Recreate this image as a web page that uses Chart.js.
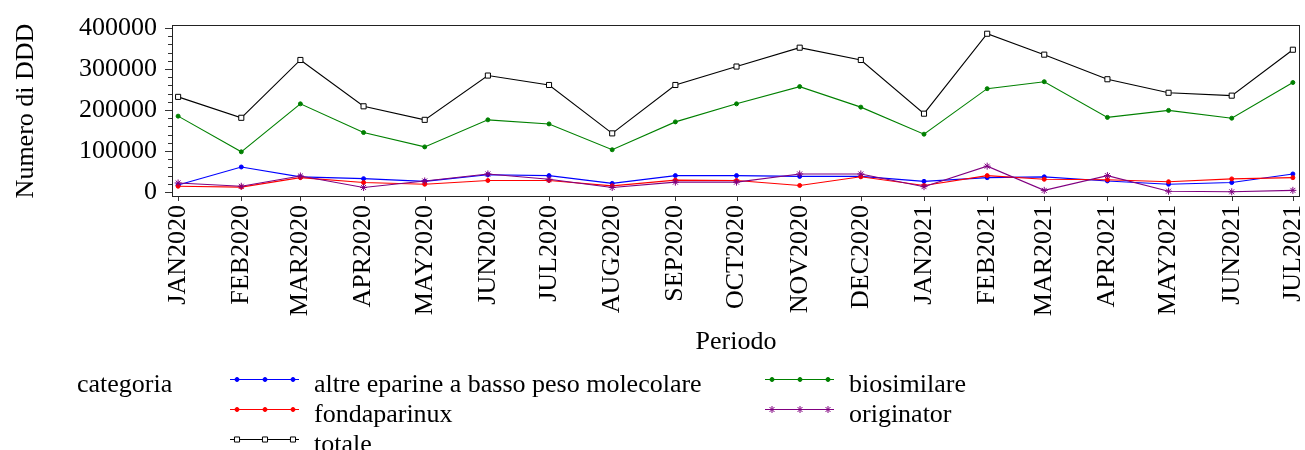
<!DOCTYPE html>
<html><head><meta charset="utf-8">
<script src="https://cdn.jsdelivr.net/npm/chart.js@4.4.1/dist/chart.umd.min.js"></script>
<style>html,body{margin:0;padding:0;background:#fff;}canvas{display:block;}</style>
</head><body>
<canvas id="c" width="1305" height="450"></canvas>
<script>
const categories = ['JAN2020','FEB2020','MAR2020','APR2020','MAY2020','JUN2020','JUL2020','AUG2020','SEP2020','OCT2020','NOV2020','DEC2020','JAN2021','FEB2021','MAR2021','APR2021','MAY2021','JUN2021','JUL2021'];
const altre = [17000,61000,37000,32500,26000,42000,40000,21000,40000,40000,38000,38000,26000,35000,37000,27000,19000,23000,44000];
const biosimilare = [185000,98000,215000,145000,110000,176000,166000,103000,171000,215000,257000,207000,141000,252000,269000,182000,199000,180000,267000];
const fondaparinux = [14000,12000,35000,23000,19000,28000,28000,15000,29000,28000,16000,37000,16000,40000,31000,30000,25000,32000,35000];
const originator = [22000,14000,39000,11000,27000,44000,31000,11000,24000,24000,44000,44000,13000,63000,4000,40000,2000,500,4000];
const totale = [232000,181000,322000,209000,176000,284000,261000,143000,261000,306000,352000,322000,191000,386000,335000,275000,242000,235000,347000];
const seriesNames = ['altre eparine a basso peso molecolare','biosimilare','fondaparinux','originator','totale'];
const legendTitle = 'categoria';
const yMajorTicks = [0,100000,200000,300000,400000];
const yMinorStep = 20000;
const xTitle = 'Periodo';
const yTitle = 'Numero di DDD';

const FONT = "'Liberation Serif', 'Times New Roman', serif";
const MONTHS = ['JAN','FEB','MAR','APR','MAY','JUN','JUL','AUG','SEP','OCT','NOV','DEC'];
function toUTC(lbl){ return Date.UTC(+lbl.slice(3), MONTHS.indexOf(lbl.slice(0,3)), 1); }
const base = toUTC(categories[0]);
const xDays = categories.map(l => Math.round((toUTC(l) - base) / 86400000));
const yTicksAll = [];
for (let v = yMajorTicks[0]; v <= yMajorTicks[yMajorTicks.length-1]; v += yMinorStep) yTicksAll.push(v);

function pts(arr){ return arr.map((v,i)=>({x:xDays[i], y:v})); }

const styles = [
  {c:'#0000ff', ps:'circle', r:2, bg:'#0000ff'},
  {c:'#008000', ps:'circle', r:2, bg:'#008000'},
  {c:'#ff0000', ps:'circle', r:2, bg:'#ff0000'},
  {c:'#800080', ps:'star', r:3.5, bg:'#800080'},
  {c:'#000000', ps:'rect', r:3.6, bg:'#ffffff'}
];
const seriesData = [altre, biosimilare, fondaparinux, originator, totale];
const drawOrder = [4, 3, 2, 1, 0];

const datasets = seriesData.map((arr, i) => ({
  label: seriesNames[i],
  data: pts(arr),
  borderColor: styles[i].c,
  backgroundColor: styles[i].bg,
  pointBackgroundColor: styles[i].bg,
  pointBorderColor: styles[i].c,
  pointStyle: styles[i].ps,
  pointRadius: styles[i].r,
  pointBorderWidth: 1,
  borderWidth: 1.1,
  tension: 0,
  order: drawOrder[i]
}));

const framePlugin = {
  id: 'frame',
  beforeDatasetsDraw(chart){
    const ctx = chart.ctx, a = chart.chartArea;
    ctx.save();
    ctx.strokeStyle = '#222'; ctx.lineWidth = 1;
    ctx.strokeRect(Math.round(a.left)+0.5, Math.round(a.top)+0.5, Math.round(a.right-a.left)-1, Math.round(a.bottom-a.top)-1);
    ctx.restore();
  },
  afterDraw(chart){
    const ctx = chart.ctx, a = chart.chartArea, xs = chart.scales.x, ys = chart.scales.y;
    ctx.save();
    ctx.strokeStyle = '#333'; ctx.lineWidth = 1;
    ctx.beginPath();
    ys.ticks.forEach(t => {
      const py = Math.round(ys.getPixelForValue(t.value)) + 0.5;
      const len = yMajorTicks.includes(t.value) ? 7 : 4;
      ctx.moveTo(Math.round(a.left) - len, py); ctx.lineTo(Math.round(a.left), py);
    });
    xs.ticks.forEach(t => {
      const px = Math.round(xs.getPixelForValue(t.value)) + 0.5;
      ctx.moveTo(px, Math.round(a.bottom)); ctx.lineTo(px, Math.round(a.bottom) + 4);
    });
    ctx.stroke();
    ctx.restore();
  }
};

const legendPlugin = {
  id: 'sasLegend',
  afterDraw(chart){
    const ctx = chart.ctx;
    ctx.save();
    ctx.font = '26px ' + FONT;
    ctx.textBaseline = 'alphabetic'; ctx.textAlign = 'left';
    ctx.fillStyle = '#000';
    ctx.fillText(legendTitle, 77, 392);
    const cols = [230, 765], rows = [392, 422, 452];
    chart.data.datasets.forEach((ds, i) => {
      const x0 = cols[i % 2], yb = rows[Math.floor(i / 2)];
      const ly = yb - 13 + 0.5;
      ctx.strokeStyle = ds.borderColor; ctx.lineWidth = 1;
      ctx.beginPath(); ctx.moveTo(x0, ly); ctx.lineTo(x0 + 69, ly); ctx.stroke();
      [7, 35, 63].forEach(dx => {
        ctx.fillStyle = ds.pointBackgroundColor; ctx.strokeStyle = ds.pointBorderColor; ctx.lineWidth = 1;
        Chart.helpers.drawPoint(ctx, {pointStyle: ds.pointStyle, radius: ds.pointRadius, rotation: 0, borderWidth: 1}, x0 + dx, ly);
      });
      ctx.fillStyle = '#000';
      ctx.fillText(ds.label, x0 + 84, yb);
    });
    ctx.restore();
  }
};

function zeroPad(s){ s.paddingLeft = 0; s.paddingRight = 0; s.paddingTop = 0; s.paddingBottom = 0; }

new Chart(document.getElementById('c'), {
  type: 'line',
  data: { datasets },
  options: {
    responsive: false,
    devicePixelRatio: 1,
    animation: false,
    layout: { padding: { left: 7, top: 25, right: 5, bottom: 88 } },
    plugins: { legend: { display: false }, tooltip: { enabled: false } },
    scales: {
      x: {
        type: 'linear',
        min: xDays[0] - 3,
        max: xDays[xDays.length - 1] + 3.5,
        afterBuildTicks: s => { s.ticks = xDays.map(v => ({ value: v })); },
        afterFit: s => { s.height = 165; zeroPad(s); },
        grid: { display: true, drawOnChartArea: false, drawTicks: true, tickLength: 4, tickColor: 'rgba(0,0,0,0)' },
        border: { display: false },
        ticks: { autoSkip: false, minRotation: 90, maxRotation: 90, padding: 4, color: '#000',
                 font: { family: FONT, size: 26 }, callback: (v, i) => categories[i] },
        title: { display: true, text: xTitle, color: '#000', font: { family: FONT, size: 26 }, padding: { top: 4, bottom: 4 } }
      },
      y: {
        min: -12200,
        max: 407300,
        afterBuildTicks: s => { s.ticks = yTicksAll.map(v => ({ value: v })); },
        afterFit: s => { s.width = 165; zeroPad(s); },
        grid: { display: true, drawOnChartArea: false, drawTicks: true, tickLength: 7, tickColor: 'rgba(0,0,0,0)' },
        border: { display: false },
        ticks: { autoSkip: false, padding: 8, color: '#000', font: { family: FONT, size: 26 },
                 callback: v => yMajorTicks.includes(v) ? String(v) : '' },
        title: { display: true, text: yTitle, color: '#000', font: { family: FONT, size: 26 }, padding: { top: 4, bottom: 4 } }
      }
    }
  },
  plugins: [framePlugin, legendPlugin]
});
</script>
</body></html>
